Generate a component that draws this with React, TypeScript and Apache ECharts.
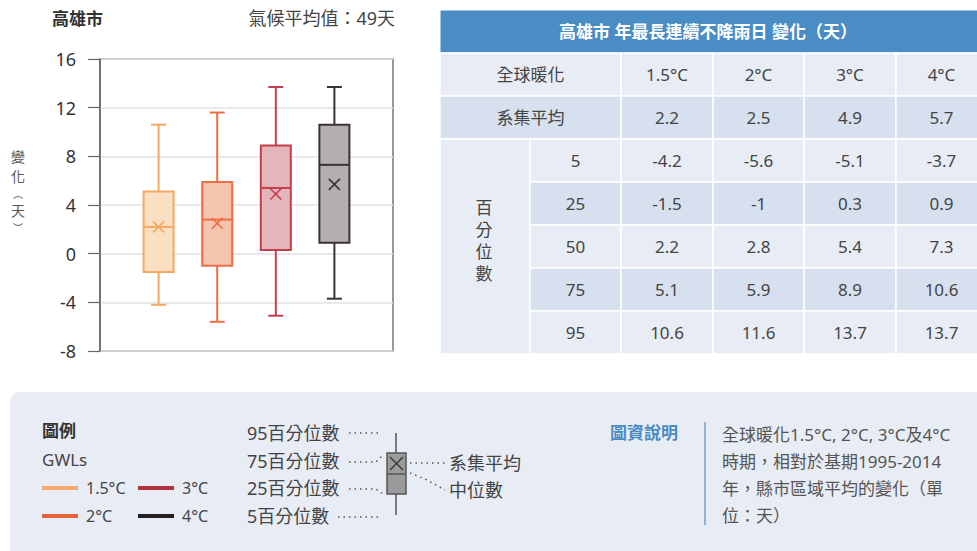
import React, { useEffect, useRef } from 'react';
import * as echarts from 'echarts';

const cityName = '高雄市';
const climateMeanText = '氣候平均值：49天';
const tableTitle = '高雄市 年最長連續不降雨日 變化（天）';
const yAxisNameChars = ['變', '化', '︵', '天', '︶'];
const gwls = ['1.5°C', '2°C', '3°C', '4°C'];
const ensembleMean = [2.2, 2.5, 4.9, 5.7];
const p5 = [-4.2, -5.6, -5.1, -3.7];
const p25 = [-1.5, -1, 0.3, 0.9];
const p50 = [2.2, 2.8, 5.4, 7.3];
const p75 = [5.1, 5.9, 8.9, 10.6];
const p95 = [10.6, 11.6, 13.7, 13.7];
const percentileLabels = ['5', '25', '50', '75', '95'];
const yMin = -8;
const yMax = 16;
const yInterval = 4;
const descLines = [
  '全球暖化1.5°C, 2°C, 3°C及4°C',
  '時期，相對於基期1995-2014',
  '年，縣市區域平均的變化（單',
  '位：天）',
];

const strokeColors = ['#F5A862', '#EB6F43', '#C63D4C', '#3A3234'];
const fillColors = ['#FADFC2', '#F6C5B0', '#E5B5BC', '#B4AFAF'];
const legendColors = ['#F7AA6C', '#E5643E', '#B52F3A', '#231F20'];

const FONT = "'Noto Sans', 'Noto Sans CJK TC', sans-serif";
const CJK = "'Noto Sans CJK TC', sans-serif";
const TXT = '#444';

function txt(text: string, x: number, y: number, opts: any = {}) {
  const align = opts.align || 'left';
  return {
    type: 'text',
    x,
    y,
    z: 10,
    style: {
      text,
      fill: opts.fill || TXT,
      font: `${opts.weight || 'normal'} ${opts.size || 16}px ${opts.family || FONT}`,
      textAlign: align,
      align,
      textVerticalAlign: 'middle',
      verticalAlign: 'middle',
      lineHeight: opts.lineHeight,
    },
  };
}

function buildGraphics() {
  const g: any[] = [];
  // titles
  g.push(txt(cityName, 52, 18, { weight: 'bold', size: 17, fill: '#333' }));
  g.push(txt(climateMeanText, 395, 18, { size: 18, align: 'right', fill: '#444' }));
  // y axis name (vertical, upright characters)
  const yNamePos = [156, 176, 193, 210, 227];
  const yNameSize = [14, 14, 10, 14, 10];
  yAxisNameChars.forEach((ch, i) => g.push(txt(ch, 18, yNamePos[i], { size: yNameSize[i], align: 'center', fill: '#555', family: CJK })));

  // table
  const cols = [440, 530, 621, 713, 804, 896, 987];
  const rowH = 43;
  const top = 10;
  const light = '#E8EDF5';
  const dark = '#D6E0EE';
  g.push({ type: 'rect', z: 1, shape: { x: 440, y: top, width: 547, height: rowH }, style: { fill: '#4A8CC4', stroke: '#fff', lineWidth: 1 } });
  g.push(txt(tableTitle, 708, top + rowH / 2, { weight: 'bold', size: 17, align: 'center', fill: '#fff' }));
  // row 1: GWL header
  const r1 = top + rowH;
  g.push({ type: 'rect', z: 1, shape: { x: cols[0], y: r1, width: cols[2] - cols[0], height: rowH }, style: { fill: light, stroke: '#fff', lineWidth: 1.5 } });
  g.push(txt('全球暖化', (cols[0] + cols[2]) / 2, r1 + rowH / 2, { align: 'center', size: 17 }));
  gwls.forEach((w, i) => {
    g.push({ type: 'rect', z: 1, shape: { x: cols[i + 2], y: r1, width: cols[i + 3] - cols[i + 2], height: rowH }, style: { fill: light, stroke: '#fff', lineWidth: 1.5 } });
    g.push(txt(w, (cols[i + 2] + cols[i + 3]) / 2, r1 + rowH / 2, { align: 'center', size: 17 }));
  });
  // row 2: ensemble mean
  const r2 = top + rowH * 2;
  g.push({ type: 'rect', z: 1, shape: { x: cols[0], y: r2, width: cols[2] - cols[0], height: rowH }, style: { fill: dark, stroke: '#fff', lineWidth: 1.5 } });
  g.push(txt('系集平均', (cols[0] + cols[2]) / 2, r2 + rowH / 2, { align: 'center', size: 17 }));
  ensembleMean.forEach((v, i) => {
    g.push({ type: 'rect', z: 1, shape: { x: cols[i + 2], y: r2, width: cols[i + 3] - cols[i + 2], height: rowH }, style: { fill: dark, stroke: '#fff', lineWidth: 1.5 } });
    g.push(txt(String(v), (cols[i + 2] + cols[i + 3]) / 2, r2 + rowH / 2, { align: 'center', size: 17 }));
  });
  // percentile rows
  const r3 = top + rowH * 3;
  g.push({ type: 'rect', z: 1, shape: { x: cols[0], y: r3, width: cols[1] - cols[0], height: rowH * 5 }, style: { fill: light, stroke: '#fff', lineWidth: 1.5 } });
  g.push({
    type: 'text', x: 484, y: 240, z: 10,
    style: {
      text: '百\n分\n位\n數', fill: TXT, font: `normal 17px ${FONT}`,
      textAlign: 'center', align: 'center', textVerticalAlign: 'middle', verticalAlign: 'middle', lineHeight: 22,
    },
  });
  const pRows = [p5, p25, p50, p75, p95];
  pRows.forEach((arr, r) => {
    const y = r3 + r * rowH;
    const fill = r % 2 === 1 ? dark : light;
    g.push({ type: 'rect', z: 1, shape: { x: cols[1], y, width: cols[2] - cols[1], height: rowH }, style: { fill, stroke: '#fff', lineWidth: 1.5 } });
    g.push(txt(percentileLabels[r], (cols[1] + cols[2]) / 2, y + rowH / 2, { align: 'center', size: 17 }));
    arr.forEach((v, i) => {
      g.push({ type: 'rect', z: 1, shape: { x: cols[i + 2], y, width: cols[i + 3] - cols[i + 2], height: rowH }, style: { fill, stroke: '#fff', lineWidth: 1.5 } });
      g.push(txt(String(v), (cols[i + 2] + cols[i + 3]) / 2, y + rowH / 2, { align: 'center', size: 17 }));
    });
  });

  // bottom panel
  g.push({ type: 'rect', z: 0, shape: { x: 10, y: 392, width: 980, height: 170, r: 10 }, style: { fill: '#E8ECF4' } });
  g.push(txt('圖例', 42, 430, { weight: 'bold', size: 17, fill: '#333' }));
  g.push(txt('GWLs', 42, 459, { size: 17 }));
  const legPos = [[42, 488], [42, 516], [138, 488], [138, 516]];
  gwls.forEach((w, i) => {
    const [lx, ly] = legPos[i];
    g.push({ type: 'line', z: 10, shape: { x1: lx, y1: ly, x2: lx + 36, y2: ly }, style: { stroke: legendColors[i], lineWidth: 4 } });
    g.push(txt(w, lx + 44, ly, { size: 16 }));
  });
  // box legend
  const pl = [['95百分位數', 433], ['75百分位數', 461], ['25百分位數', 488], ['5百分位數', 516]] as [string, number][];
  pl.forEach(([t, y]) => g.push(txt(t, 247, y, { size: 18 })));
  const dot = { stroke: '#555', lineWidth: 1.5, lineDash: [1.5, 4], fill: null };
  g.push({ type: 'polyline', z: 10, shape: { points: [[349, 433], [381, 433]] }, style: dot });
  g.push({ type: 'polyline', z: 10, shape: { points: [[349, 462], [376, 462], [383, 455]] }, style: dot });
  g.push({ type: 'polyline', z: 10, shape: { points: [[349, 489], [376, 489], [383, 494]] }, style: dot });
  g.push({ type: 'polyline', z: 10, shape: { points: [[338, 517], [381, 517]] }, style: dot });
  g.push({ type: 'polyline', z: 10, shape: { points: [[410, 463], [445, 463]] }, style: dot });
  g.push({ type: 'polyline', z: 10, shape: { points: [[410, 473], [425, 479], [445, 490]] }, style: dot });
  g.push({ type: 'line', z: 10, shape: { x1: 396, y1: 433, x2: 396, y2: 515 }, style: { stroke: '#555', lineWidth: 1.5 } });
  g.push({ type: 'rect', z: 11, shape: { x: 387, y: 453, width: 19, height: 41 }, style: { fill: '#9B9B9B', stroke: '#555', lineWidth: 1.5 } });
  g.push({ type: 'line', z: 12, shape: { x1: 387, y1: 474, x2: 406, y2: 474 }, style: { stroke: '#555', lineWidth: 1.5 } });
  g.push({ type: 'line', z: 12, shape: { x1: 390, y1: 457, x2: 403, y2: 470 }, style: { stroke: '#333', lineWidth: 1.3 } });
  g.push({ type: 'line', z: 12, shape: { x1: 403, y1: 457, x2: 390, y2: 470 }, style: { stroke: '#333', lineWidth: 1.3 } });
  g.push(txt('系集平均', 449, 463, { size: 18 }));
  g.push(txt('中位數', 449, 490, { size: 18 }));

  // description
  g.push(txt('圖資說明', 610, 432, { weight: 'bold', size: 17, fill: '#4A8BC4' }));
  g.push({ type: 'line', z: 10, shape: { x1: 705, y1: 422, x2: 705, y2: 525 }, style: { stroke: '#8DB5DA', lineWidth: 2 } });
  descLines.forEach((l, i) => g.push(txt(l, 722, 434 + i * 27, { size: 17, fill: '#555' })));
  return g;
}

export default function App() {
  const ref = useRef<HTMLDivElement>(null);
  useEffect(() => {
    if (!ref.current) return;
    const chart = echarts.init(ref.current, null, { renderer: 'svg' });
    const data = gwls.map((_, i) => [i + 1, p5[i], p25[i], p50[i], p75[i], p95[i], ensembleMean[i]]);
    chart.setOption({
      animation: false,
      backgroundColor: '#fff',
      grid: { left: 100, right: 584, top: 59, bottom: 200, show: true, borderColor: '#777', borderWidth: 1.5, backgroundColor: '#fff' },
      xAxis: { type: 'category', data: ['', ...gwls, ''], boundaryGap: false, show: false },
      yAxis: {
        type: 'value', min: yMin, max: yMax, interval: yInterval,
        axisLine: { show: true, lineStyle: { color: '#666', width: 1.5 } },
        axisTick: { show: true, length: 12, lineStyle: { color: '#666', width: 1.2 } },
        axisLabel: { margin: 24, color: '#333', fontSize: 18, fontFamily: FONT },
        splitLine: { show: true, lineStyle: { color: '#E2E2E2', width: 1.5 } },
      },
      series: [{
        type: 'custom',
        data,
        encode: { x: 0, y: [1, 2, 3, 4, 5, 6] },
        renderItem: (params: any, api: any) => {
          const i = params.dataIndex;
          const x = api.value(0);
          const c = (v: number) => api.coord([x, v]);
          const cx = c(api.value(1))[0];
          const y5 = c(api.value(1))[1];
          const y25 = c(api.value(2))[1];
          const y50 = c(api.value(3))[1];
          const y75 = c(api.value(4))[1];
          const y95 = c(api.value(5))[1];
          const ym = c(api.value(6))[1];
          const bw = 15, cw = 7.5, m = 5.5;
          const st = { stroke: strokeColors[i], lineWidth: 2 };
          return {
            type: 'group',
            children: [
              { type: 'line', shape: { x1: cx, y1: y95, x2: cx, y2: y75 }, style: st },
              { type: 'line', shape: { x1: cx, y1: y25, x2: cx, y2: y5 }, style: st },
              { type: 'line', shape: { x1: cx - cw, y1: y95, x2: cx + cw, y2: y95 }, style: st },
              { type: 'line', shape: { x1: cx - cw, y1: y5, x2: cx + cw, y2: y5 }, style: st },
              { type: 'rect', shape: { x: cx - bw, y: y75, width: bw * 2, height: y25 - y75 }, style: { fill: fillColors[i], stroke: strokeColors[i], lineWidth: 2 } },
              { type: 'line', shape: { x1: cx - bw, y1: y50, x2: cx + bw, y2: y50 }, style: st },
              { type: 'line', shape: { x1: cx - m, y1: ym - m, x2: cx + m, y2: ym + m }, style: { stroke: strokeColors[i], lineWidth: 1.6 } },
              { type: 'line', shape: { x1: cx - m, y1: ym + m, x2: cx + m, y2: ym - m }, style: { stroke: strokeColors[i], lineWidth: 1.6 } },
            ],
          };
        },
      }],
      graphic: buildGraphics(),
    });
    return () => chart.dispose();
  }, []);
  return <div ref={ref} style={{ position: 'absolute', left: 0, top: 0, width: 977, height: 551 }} />;
}
